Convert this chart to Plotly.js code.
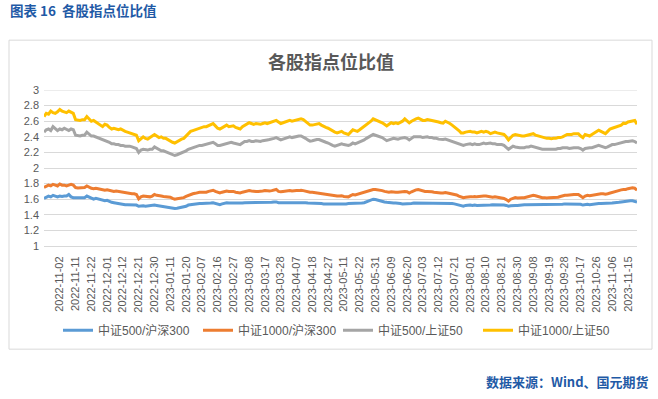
<!DOCTYPE html>
<html>
<head>
<meta charset="utf-8">
<script src="https://cdn.plot.ly/plotly-3.0.1.min.js"></script>
<style>
html,body{margin:0;padding:0;background:#fff;}
#chart{width:658px;height:399px;}
</style>
</head>
<body>
<div id="chart"></div>
<script>
// Trading calendar (Chinese A-share market)
const startDate = '2022-10-24';
const endDate = '2023-11-21';
const holidays = ['2023-01-02','2023-01-23','2023-01-24','2023-01-25','2023-01-26','2023-01-27',
  '2023-04-05','2023-05-01','2023-05-02','2023-05-03','2023-06-22','2023-06-23',
  '2023-09-29','2023-10-02','2023-10-03','2023-10-04','2023-10-05','2023-10-06'];

// x-axis tick labels (every 7 trading days)
const tickLabels = ['2022-11-02','2022-11-11','2022-11-22','2022-12-01','2022-12-12','2022-12-21','2022-12-30',
  '2023-01-11','2023-01-20','2023-02-07','2023-02-16','2023-02-27','2023-03-08','2023-03-17','2023-03-28',
  '2023-04-07','2023-04-18','2023-04-27','2023-05-11','2023-05-22','2023-05-31','2023-06-09','2023-06-20',
  '2023-07-03','2023-07-12','2023-07-21','2023-08-01','2023-08-10','2023-08-21','2023-08-30','2023-09-08',
  '2023-09-19','2023-09-28','2023-10-17','2023-10-26','2023-11-06','2023-11-15'];

const seriesNames = ['中证500/沪深300','中证1000/沪深300','中证500/上证50','中证1000/上证50'];

const zz500_hs300 = [
1.61,1.63,1.64,1.63,1.65,1.64,1.63,1.64,1.635,1.64,
1.64,1.66,1.63,1.62,1.62,1.615,1.62,1.62,1.62,1.64,
1.625,1.61,1.60,1.61,1.60,1.60,1.59,1.58,1.585,1.57,
1.56,1.555,1.55,1.54,1.535,1.53,1.53,1.53,1.53,1.53,
1.53,1.525,1.51,1.515,1.515,1.51,1.515,1.515,1.52,1.525,
1.52,1.515,1.515,1.51,1.505,1.50,1.495,1.49,1.48,1.485,
1.49,1.50,1.50,1.51,1.525,1.53,1.535,1.54,1.545,1.545,
1.545,1.545,1.545,1.55,1.55,1.555,1.545,1.535,1.53,1.54,
1.55,1.555,1.55,1.55,1.55,1.545,1.545,1.545,1.55,1.555,
1.555,1.56,1.56,1.555,1.56,1.56,1.56,1.56,1.56,1.56,
1.56,1.56,1.565,1.565,1.555,1.555,1.56,1.56,1.56,1.56,
1.56,1.56,1.56,1.56,1.56,1.56,1.555,1.55,1.55,1.55,
1.55,1.55,1.55,1.545,1.54,1.54,1.54,1.54,1.535,1.535,
1.535,1.54,1.54,1.54,1.54,1.545,1.545,1.545,1.545,1.55,
1.55,1.55,1.555,1.565,1.58,1.59,1.60,1.595,1.585,1.58,
1.575,1.565,1.56,1.555,1.55,1.55,1.55,1.55,1.545,1.54,
1.54,1.54,1.54,1.545,1.55,1.55,1.55,1.55,1.55,1.55,
1.55,1.55,1.55,1.55,1.55,1.55,1.55,1.55,1.55,1.55,
1.545,1.545,1.54,1.53,1.52,1.51,1.51,1.52,1.525,1.525,
1.52,1.525,1.52,1.52,1.52,1.52,1.52,1.52,1.525,1.53,
1.53,1.53,1.53,1.53,1.525,1.52,1.51,1.515,1.52,1.52,
1.52,1.525,1.525,1.53,1.53,1.53,1.53,1.53,1.53,1.53,
1.53,1.53,1.53,1.53,1.53,1.53,1.53,1.535,1.535,1.535,
1.535,1.54,1.54,1.54,1.54,1.54,1.54,1.54,1.535,1.525,
1.53,1.535,1.53,1.535,1.54,1.545,1.545,1.545,1.545,1.545,
1.545,1.545,1.55,1.555,1.555,1.56,1.565,1.57,1.57,1.575,
1.58,1.58,1.575,1.565];

const zz1000_hs300 = [
1.75,1.77,1.78,1.77,1.79,1.78,1.77,1.795,1.78,1.78,
1.77,1.78,1.79,1.78,1.75,1.745,1.745,1.75,1.75,1.77,
1.75,1.74,1.735,1.74,1.735,1.73,1.72,1.715,1.72,1.71,
1.70,1.70,1.705,1.70,1.69,1.69,1.68,1.68,1.675,1.67,
1.67,1.66,1.605,1.63,1.64,1.635,1.63,1.63,1.64,1.66,
1.65,1.64,1.64,1.635,1.63,1.63,1.625,1.61,1.60,1.605,
1.61,1.62,1.62,1.635,1.65,1.66,1.67,1.675,1.685,1.69,
1.69,1.69,1.69,1.70,1.705,1.715,1.70,1.685,1.68,1.69,
1.70,1.705,1.70,1.70,1.70,1.69,1.685,1.68,1.69,1.70,
1.705,1.71,1.705,1.70,1.70,1.70,1.70,1.705,1.71,1.705,
1.705,1.71,1.72,1.725,1.70,1.695,1.70,1.705,1.71,1.71,
1.705,1.71,1.71,1.71,1.715,1.71,1.70,1.695,1.69,1.69,
1.685,1.68,1.68,1.675,1.665,1.66,1.655,1.65,1.645,1.64,
1.64,1.64,1.645,1.635,1.63,1.63,1.645,1.66,1.655,1.665,
1.67,1.68,1.69,1.70,1.71,1.72,1.725,1.725,1.72,1.72,
1.71,1.70,1.69,1.69,1.695,1.69,1.69,1.69,1.695,1.70,
1.70,1.695,1.68,1.695,1.71,1.72,1.725,1.715,1.705,1.70,
1.70,1.70,1.695,1.69,1.685,1.68,1.68,1.68,1.685,1.68,
1.675,1.67,1.665,1.655,1.64,1.625,1.62,1.625,1.63,1.63,
1.63,1.635,1.63,1.635,1.64,1.64,1.64,1.635,1.625,1.625,
1.63,1.625,1.62,1.62,1.61,1.595,1.575,1.60,1.615,1.62,
1.615,1.62,1.62,1.62,1.63,1.64,1.645,1.65,1.645,1.635,
1.63,1.62,1.62,1.615,1.62,1.62,1.62,1.62,1.625,1.635,
1.645,1.65,1.65,1.655,1.655,1.66,1.66,1.66,1.64,1.62,
1.64,1.65,1.645,1.65,1.66,1.665,1.67,1.67,1.67,1.665,
1.67,1.68,1.69,1.69,1.70,1.71,1.72,1.725,1.725,1.735,
1.745,1.745,1.74,1.715];

const zz500_sz50 = [
2.46,2.49,2.50,2.48,2.53,2.50,2.48,2.50,2.49,2.51,
2.49,2.48,2.50,2.49,2.42,2.41,2.41,2.42,2.42,2.46,
2.43,2.41,2.41,2.40,2.39,2.38,2.37,2.36,2.35,2.33,
2.31,2.31,2.30,2.30,2.29,2.29,2.28,2.28,2.28,2.27,
2.26,2.25,2.20,2.23,2.24,2.23,2.23,2.24,2.24,2.27,
2.25,2.23,2.22,2.22,2.21,2.20,2.19,2.17,2.16,2.17,
2.18,2.20,2.21,2.22,2.24,2.25,2.26,2.28,2.28,2.29,
2.29,2.30,2.30,2.31,2.32,2.33,2.31,2.29,2.29,2.30,
2.31,2.32,2.32,2.33,2.32,2.31,2.30,2.30,2.32,2.34,
2.34,2.35,2.34,2.34,2.35,2.345,2.34,2.35,2.36,2.36,
2.365,2.37,2.38,2.39,2.37,2.36,2.37,2.38,2.39,2.40,
2.39,2.40,2.40,2.41,2.41,2.40,2.38,2.36,2.345,2.35,
2.36,2.365,2.365,2.35,2.34,2.33,2.32,2.30,2.29,2.28,
2.29,2.30,2.31,2.30,2.29,2.29,2.30,2.32,2.31,2.32,
2.33,2.35,2.36,2.38,2.40,2.42,2.43,2.42,2.41,2.41,
2.39,2.37,2.35,2.36,2.37,2.38,2.375,2.37,2.38,2.39,
2.39,2.38,2.36,2.38,2.40,2.40,2.40,2.40,2.39,2.40,
2.40,2.39,2.39,2.38,2.38,2.37,2.365,2.365,2.37,2.36,
2.35,2.345,2.34,2.33,2.31,2.30,2.29,2.30,2.31,2.31,
2.30,2.31,2.30,2.30,2.31,2.32,2.31,2.32,2.32,2.31,
2.31,2.30,2.30,2.30,2.29,2.27,2.24,2.26,2.28,2.27,
2.26,2.26,2.26,2.26,2.27,2.27,2.28,2.27,2.26,2.25,
2.25,2.24,2.24,2.24,2.24,2.24,2.24,2.24,2.25,2.25,
2.26,2.26,2.26,2.25,2.26,2.26,2.26,2.26,2.25,2.23,
2.25,2.26,2.26,2.26,2.27,2.28,2.29,2.28,2.27,2.26,
2.27,2.29,2.30,2.30,2.31,2.32,2.33,2.33,2.34,2.34,
2.35,2.35,2.34,2.32];

const zz1000_sz50 = [
2.66,2.70,2.69,2.73,2.71,2.70,2.72,2.75,2.73,2.72,
2.71,2.73,2.72,2.70,2.62,2.61,2.61,2.62,2.62,2.66,
2.63,2.60,2.61,2.59,2.58,2.55,2.53,2.56,2.55,2.52,
2.50,2.51,2.50,2.49,2.50,2.48,2.47,2.46,2.45,2.45,
2.44,2.42,2.35,2.38,2.40,2.38,2.37,2.39,2.41,2.43,
2.41,2.39,2.40,2.38,2.38,2.36,2.35,2.33,2.32,2.34,
2.35,2.37,2.38,2.41,2.44,2.47,2.48,2.49,2.50,2.52,
2.52,2.53,2.53,2.54,2.56,2.57,2.54,2.51,2.50,2.52,
2.54,2.55,2.53,2.54,2.54,2.52,2.51,2.50,2.53,2.55,
2.56,2.58,2.57,2.56,2.57,2.56,2.56,2.57,2.58,2.57,
2.58,2.59,2.60,2.61,2.59,2.57,2.58,2.59,2.60,2.61,
2.60,2.61,2.62,2.62,2.63,2.62,2.60,2.57,2.55,2.55,
2.56,2.57,2.57,2.55,2.53,2.52,2.51,2.49,2.47,2.46,
2.45,2.46,2.47,2.45,2.44,2.43,2.46,2.49,2.48,2.47,
2.49,2.51,2.53,2.55,2.58,2.60,2.63,2.62,2.61,2.60,
2.58,2.56,2.54,2.56,2.58,2.57,2.58,2.57,2.58,2.60,
2.63,2.61,2.58,2.60,2.62,2.63,2.64,2.62,2.61,2.61,
2.62,2.615,2.61,2.60,2.60,2.59,2.58,2.575,2.60,2.59,
2.57,2.55,2.53,2.51,2.48,2.45,2.45,2.46,2.47,2.47,
2.46,2.46,2.45,2.46,2.47,2.46,2.47,2.46,2.44,2.45,
2.46,2.45,2.44,2.44,2.43,2.40,2.36,2.39,2.42,2.43,
2.42,2.41,2.41,2.41,2.42,2.43,2.44,2.44,2.42,2.41,
2.40,2.39,2.39,2.38,2.38,2.375,2.38,2.38,2.39,2.39,
2.40,2.42,2.43,2.43,2.43,2.44,2.44,2.44,2.41,2.39,
2.43,2.42,2.41,2.43,2.45,2.47,2.485,2.47,2.45,2.44,
2.47,2.50,2.51,2.52,2.525,2.54,2.55,2.575,2.57,2.59,
2.60,2.60,2.61,2.56];

// build trading-day categories
function buildDates() {
  const out = [];
  const hs = new Set(holidays);
  const d = new Date(startDate + 'T00:00:00Z');
  const end = new Date(endDate + 'T00:00:00Z');
  while (d <= end) {
    const wd = d.getUTCDay();
    const s = d.toISOString().slice(0, 10);
    if (wd !== 0 && wd !== 6 && !hs.has(s)) out.push(s);
    d.setUTCDate(d.getUTCDate() + 1);
  }
  return out;
}
const dates = buildDates();

const colors = ['#5B9BD5', '#ED7D31', '#A5A5A5', '#FFC000'];
const allSeries = [zz500_hs300, zz1000_hs300, zz500_sz50, zz1000_sz50];

const traces = allSeries.map((ys, k) => ({
  type: 'scatter',
  mode: 'lines',
  name: seriesNames[k],
  x: dates,
  y: ys,
  line: { color: colors[k], width: 3 },
  hoverinfo: 'x+y+name'
}));

const W = 658, H = 399;
const L = 44, R = 21, T = 90, B = 152.5;
const pw = W - L - R, ph = H - T - B;
const px = v => (v - L) / pw;
const py = v => (H - B - v) / ph;

const latin = 'Liberation Sans, Noto Sans CJK SC, sans-serif';

const layout = {
  width: W, height: H,
  margin: { l: L, r: R, t: T, b: B, pad: 0 },
  paper_bgcolor: '#ffffff',
  plot_bgcolor: '#ffffff',
  showlegend: true,
  title: {
    text: '<b>各股指点位比值</b>',
    font: { family: 'Noto Sans CJK SC, sans-serif', size: 18, color: '#595959' },
    x: 331 / W, xanchor: 'center', xref: 'container',
    y: 1 - 63 / H, yanchor: 'middle', yref: 'container'
  },
  xaxis: {
    type: 'category',
    tickmode: 'array',
    tickvals: tickLabels,
    ticktext: tickLabels,
    tickangle: -90,
    tickfont: { family: latin, size: 11, color: '#595959' },
    showgrid: false,
    showline: true,
    linecolor: '#D9D9D9',
    linewidth: 1,
    ticks: '',
    ticklabelstandoff: 5,
    zeroline: false
  },
  yaxis: {
    range: [1, 3],
    tick0: 1,
    dtick: 0.2,
    showgrid: true,
    gridcolor: '#D9D9D9',
    gridwidth: 1,
    zeroline: false,
    showline: false,
    ticks: '',
    tickfont: { family: latin, size: 11, color: '#595959' },
    ticklabelstandoff: 4
  },
  legend: {
    orientation: 'h',
    x: px(58), xanchor: 'left',
    y: py(331), yanchor: 'middle',
    font: { family: latin, size: 12, color: '#595959' },
    bgcolor: 'rgba(0,0,0,0)',
    itemwidth: 30,
    entrywidth: 95
  },
  shapes: [
    {
      type: 'rect', xref: 'paper', yref: 'paper',
      x0: px(9), x1: px(652), y0: py(350), y1: py(40),
      line: { color: '#D9D9D9', width: 1 },
      fillcolor: 'rgba(0,0,0,0)',
      layer: 'below'
    },
    {
      type: 'line', xref: 'paper', yref: 'y',
      x0: 0, x1: 1, y0: 3, y1: 3,
      line: { color: '#D9D9D9', width: 1 },
      layer: 'below'
    }
  ],
  annotations: [
    {
      text: '<b>图表 16  各股指点位比值</b>',
      xref: 'paper', yref: 'paper',
      x: px(8), xanchor: 'left',
      y: py(10), yanchor: 'middle',
      showarrow: false,
      font: { family: 'Noto Sans CJK SC, sans-serif', size: 13.5, color: '#1F5AA6' }
    },
    {
      text: '<b>数据来源：Wind、国元期货</b>',
      xref: 'paper', yref: 'paper',
      x: px(651), xanchor: 'right',
      y: py(382), yanchor: 'middle',
      showarrow: false,
      font: { family: 'Noto Sans CJK SC, sans-serif', size: 13, color: '#1F5AA6' }
    }
  ]
};

Plotly.newPlot('chart', traces, layout, { displayModeBar: false, staticPlot: true });
</script>
</body>
</html>
